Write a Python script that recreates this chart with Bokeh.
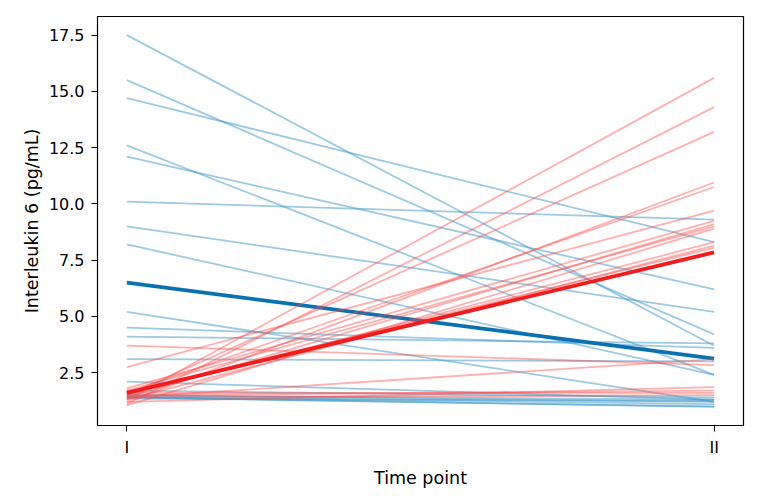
from bokeh.plotting import figure
from bokeh.models import FixedTicker, PrintfTickFormatter, Range1d
from bokeh.embed import file_html
from bokeh.resources import INLINE

# Time points
time_labels = ["I", "II"]
time_x = [0, 1]

# Group A (blue, decreasing) – values at time point I and II
blue_start = [17.5, 15.5, 14.7, 12.6, 12.1, 10.1, 9.0, 8.2, 5.2, 4.5, 4.1, 3.1, 2.1,
              1.7, 1.5, 1.5, 1.45, 1.4, 1.4, 1.35]
blue_end = [3.7, 4.2, 8.3, 2.4, 6.2, 9.3, 5.2, 2.4, 1.2, 3.6, 3.8, 3.0, 1.3,
            1.4, 1.3, 1.2, 1.1, 1.0, 0.98, 1.25]

# Group B (red, increasing)
red_start = [3.7, 2.75, 1.3, 1.1, 1.5, 1.2, 1.6, 1.8, 1.4, 1.7, 1.05, 1.5, 1.3, 1.6,
             1.4, 1.2, 1.5, 1.6, 1.4]
red_end = [2.84, 9.7, 15.6, 14.3, 13.2, 10.95, 10.75, 9.25, 9.1, 9.0, 8.9, 8.3, 8.15, 8.05,
           3.1, 1.86, 1.7, 1.6, 1.5]

# Group means
blue_mean = [6.5, 3.13]
red_mean = [1.6, 7.85]

y_ticks = [2.5, 5.0, 7.5, 10.0, 12.5, 15.0, 17.5]

all_vals = blue_start + blue_end + red_start + red_end
lo, hi = min(all_vals), max(all_vals)
pad = 0.05 * (hi - lo)

p = figure(width=753, height=490, output_backend="svg", toolbar_location=None,
           x_range=Range1d(-0.05, 1.05), y_range=Range1d(lo - pad, hi + pad),
           min_border_left=97, min_border_top=16, min_border_right=10, min_border_bottom=60)

for s, e in zip(blue_start, blue_end):
    p.line(time_x, [s, e], line_color="#3a96c8", line_alpha=0.5, line_width=1.8)
p.line(time_x, blue_mean, line_color="#0a71b0", line_width=3.8)

for s, e in zip(red_start, red_end):
    p.line(time_x, [s, e], line_color="#ff4d4d", line_alpha=0.45, line_width=1.8)
p.line(time_x, red_mean, line_color="#f21c1c", line_width=3.8)

p.grid.visible = False
p.outline_line_color = "black"
p.outline_line_width = 1.2
p.background_fill_color = "white"

for ax in (p.xaxis[0], p.yaxis[0]):
    ax.axis_line_color = None
    ax.major_tick_in = 0
    ax.major_tick_out = 6
    ax.minor_tick_line_color = None
    ax.major_tick_line_color = "black"
    ax.major_label_text_font = "DejaVu Sans"
    ax.major_label_text_font_size = "16px"
    ax.major_label_text_color = "black"
    ax.axis_label_text_font = "DejaVu Sans"
    ax.axis_label_text_font_size = "17.5px"
    ax.axis_label_text_font_style = "normal"
    ax.axis_label_text_color = "black"

p.xaxis.ticker = FixedTicker(ticks=time_x)
p.xaxis.major_label_overrides = {0: time_labels[0], 1: time_labels[1]}
p.xaxis.major_label_standoff = 6
p.xaxis.axis_label = "Time point"
p.xaxis.axis_label_standoff = 8

p.yaxis.ticker = FixedTicker(ticks=y_ticks)
p.yaxis.formatter = PrintfTickFormatter(format="%.1f")
p.yaxis.major_label_standoff = 7
p.yaxis.axis_label = "Interleukin 6 (pg/mL)"
p.yaxis.axis_label_standoff = 4

open("out.html", "w").write(file_html(p, INLINE))
